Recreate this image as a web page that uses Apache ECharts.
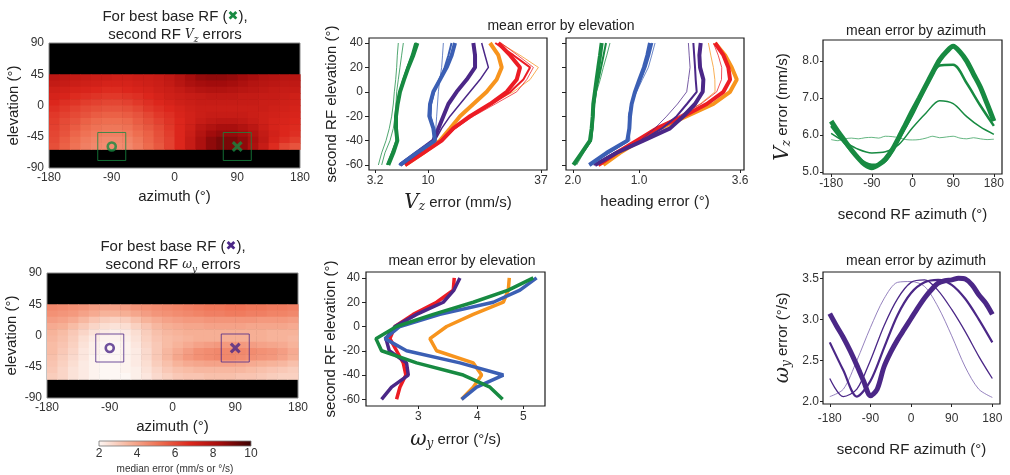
<!DOCTYPE html>
<html>
<head>
<meta charset="utf-8">
<script src="https://cdn.jsdelivr.net/npm/echarts/dist/echarts.min.js"></script>
<style>
  html, body { margin: 0; padding: 0; background: #fff; }
  #chart { width: 1010px; height: 475px; }
</style>
</head>
<body>
<div id="chart"></div>
<script>
// ---------- data ----------
const elevLevels = [40, 30, 20, 10, 0, -10, -20, -30, -40, -50, -60];
const elevTicks = [-60, -40, -20, 0, 20, 40];
const azTicks = [-180, -90, 0, 90, 180];

// heatmap cells (centres)
const heatAz = [-172.5, -157.5, -142.5, -127.5, -112.5, -97.5, -82.5, -67.5, -52.5, -37.5, -22.5, -7.5,
  7.5, 22.5, 37.5, 52.5, 67.5, 82.5, 97.5, 112.5, 127.5, 142.5, 157.5, 172.5];
const heatEl = [40.5, 31.5, 22.5, 13.5, 4.5, -4.5, -13.5, -22.5, -31.5, -40.5, -49.5, -58.5];

// second RF Vz errors (mm/s), one row per elevation
const vzHeat = [
  [7.7,7.6,7.5,7.4,7.3,7.3,7.2,7.2,7.3,7.3,7.4,7.6,7.9,8.3,8.6,8.7,8.7,8.6,8.4,8.2,8.0,7.9,7.8,7.8],
  [7.5,7.4,7.3,7.2,7.1,7.0,7.0,7.0,7.1,7.2,7.3,7.5,7.8,8.1,8.3,8.4,8.4,8.3,8.1,7.9,7.8,7.7,7.6,7.6],
  [7.2,7.1,7.0,6.9,6.8,6.7,6.7,6.8,6.9,7.0,7.2,7.3,7.5,7.7,7.9,8.0,8.0,7.9,7.8,7.7,7.6,7.5,7.4,7.4],
  [7.0,6.9,6.7,6.6,6.5,6.4,6.4,6.5,6.6,6.8,7.0,7.2,7.3,7.4,7.5,7.6,7.6,7.6,7.5,7.5,7.4,7.4,7.3,7.2],
  [6.8,6.6,6.5,6.3,6.2,6.1,6.1,6.2,6.4,6.6,6.8,7.0,7.2,7.3,7.4,7.4,7.4,7.4,7.4,7.4,7.3,7.3,7.2,7.1],
  [6.6,6.4,6.2,6.0,5.9,5.8,5.8,5.9,6.1,6.4,6.6,6.8,7.0,7.2,7.3,7.3,7.3,7.3,7.3,7.3,7.3,7.2,7.1,7.0],
  [6.4,6.2,6.0,5.8,5.6,5.5,5.5,5.6,5.8,6.1,6.4,6.6,6.9,7.1,7.3,7.4,7.4,7.4,7.4,7.3,7.2,7.1,7.0,6.9],
  [6.3,6.0,5.8,5.5,5.3,5.2,5.2,5.3,5.6,5.9,6.2,6.5,6.8,7.1,7.4,7.6,7.7,7.7,7.6,7.4,7.2,7.0,6.9,6.8],
  [6.2,5.9,5.6,5.3,5.1,5.0,5.0,5.1,5.4,5.7,6.0,6.4,6.8,7.2,7.7,8.0,8.2,8.2,8.0,7.7,7.3,7.0,6.8,6.7],
  [6.1,5.8,5.4,5.1,4.9,4.8,4.8,4.9,5.2,5.5,5.9,6.3,6.8,7.3,7.9,8.4,8.6,8.6,8.4,8.0,7.5,7.1,6.8,6.6],
  [6.0,5.6,5.2,4.9,4.7,4.6,4.6,4.7,5.0,5.4,5.8,6.2,6.8,7.4,8.1,8.7,9.0,9.0,8.7,8.2,7.6,7.0,6.6,6.3],
  [5.9,5.5,5.1,4.8,4.6,4.5,4.5,4.6,4.9,5.3,5.7,6.2,6.8,7.4,8.1,8.7,9.0,9.0,8.7,8.1,7.4,6.7,6.1,5.8]
];

// second RF wy errors (deg/s)
const wyHeat = [
  [4.6,4.5,4.4,4.3,4.1,4.0,4.0,4.1,4.3,4.4,4.5,4.6,4.7,4.8,4.9,5.0,5.0,5.1,5.1,5.0,5.0,4.9,4.9,4.8],
  [4.4,4.3,4.2,4.0,3.8,3.6,3.6,3.7,3.9,4.1,4.3,4.4,4.5,4.6,4.7,4.8,4.8,4.9,4.9,4.8,4.8,4.7,4.7,4.6],
  [4.1,4.0,3.8,3.5,3.2,3.0,2.9,3.0,3.3,3.6,3.8,4.0,4.1,4.2,4.2,4.3,4.3,4.3,4.3,4.3,4.2,4.2,4.2,4.1],
  [3.8,3.7,3.4,3.1,2.8,2.6,2.5,2.6,2.9,3.2,3.5,3.7,3.8,3.9,3.9,4.0,4.0,4.0,4.0,3.9,3.9,3.9,3.9,3.8],
  [3.6,3.4,3.1,2.8,2.5,2.3,2.2,2.3,2.6,3.0,3.3,3.5,3.6,3.7,3.7,3.7,3.7,3.7,3.7,3.7,3.7,3.6,3.6,3.6],
  [3.5,3.3,3.0,2.6,2.3,2.1,2.1,2.2,2.5,2.9,3.2,3.4,3.5,3.6,3.7,3.7,3.7,3.7,3.7,3.7,3.7,3.6,3.6,3.5],
  [3.4,3.2,2.9,2.5,2.2,2.0,2.0,2.1,2.4,2.8,3.1,3.4,3.6,3.8,4.0,4.1,4.2,4.2,4.2,4.1,4.0,3.9,3.8,3.6],
  [3.4,3.1,2.8,2.4,2.2,2.0,2.0,2.1,2.3,2.7,3.1,3.5,3.8,4.1,4.4,4.5,4.6,4.6,4.6,4.5,4.4,4.3,4.1,3.8],
  [3.3,3.0,2.7,2.4,2.1,2.0,2.0,2.1,2.3,2.7,3.1,3.5,3.9,4.2,4.4,4.5,4.6,4.6,4.5,4.4,4.3,4.2,4.0,3.7],
  [3.2,2.9,2.6,2.3,2.1,2.0,2.0,2.1,2.3,2.6,3.0,3.3,3.6,3.8,3.9,4.0,4.0,4.0,3.9,3.8,3.7,3.6,3.5,3.3],
  [3.1,2.8,2.5,2.3,2.1,2.0,2.0,2.1,2.2,2.5,2.8,3.1,3.3,3.4,3.5,3.5,3.5,3.5,3.5,3.4,3.3,3.2,3.1,3.0],
  [3.0,2.8,2.5,2.3,2.1,2.0,2.0,2.0,2.2,2.4,2.7,2.9,3.1,3.2,3.2,3.3,3.3,3.3,3.2,3.2,3.1,3.0,2.9,2.9]
];

// best base RF (x) and alternative (o) positions [azimuth, elevation]
const vzMarkO = [-90, -59];
const vzMarkX = [90, -59];
const wyMarkO = [-90, -18];
const wyMarkX = [90, -18];

const cmapColors = ['#fdf7f4', '#f7b39a', '#ee6e50', '#dc261c', '#a20c0c', '#3a0202'];
const cbarTicks = [2, 4, 6, 8, 10];

// mean Vz error by elevation (mm/s)
const vzTicks = [3.2, 10, 37];
const vzTickLabels = ['3.2', '10', '37'];
const vzGreenThick = [8.32, 7.73, 7.03, 6.45, 5.93, 5.64, 5.44, 5.44, 5.60, 5.12, 4.55];
const vzGreenMid = [8.0, 7.5, 6.9, 6.35, 5.9, 5.6, 5.42, 5.4, 5.5, 4.95, 4.4];
const vzGreenThin1 = [6.36, 6.14, 5.93, 5.72, 5.52, 5.44, 5.32, 5.12, 4.74, 4.19, 3.85];
const vzGreenThin2 = [5.72, 5.60, 5.52, 5.40, 5.24, 5.12, 4.93, 4.66, 4.30, 3.85, 3.52];
const vzBlueThick = [14.89, 14.23, 13.27, 12.04, 10.88, 10.32, 10.20, 10.88, 11.16, 8.22, 5.93];
const vzBlueMid = [14.2, 13.6, 12.9, 11.9, 11.0, 10.5, 10.4, 10.9, 11.0, 8.1, 5.8];
const vzBlueThin = [12.65, 12.5, 12.34, 12.0, 11.75, 11.6, 11.45, 11.3, 11.16, 8.47, 6.14];
const vzPurpleThick = [18.77, 19.15, 19.15, 17.31, 15.22, 13.59, 12.65, 11.75, 10.88, 8.22, 5.93];
const vzPurpleThin = [20.68, 21.47, 22.29, 20.30, 18.03, 15.90, 13.91, 12.34, 11.16, 8.47, 6.14];
const vzOrangeThick = [22.69, 24.79, 25.66, 24.36, 21.88, 18.77, 15.90, 13.91, 12.04, 9.24, 6.58];
const vzOrangeThin = [25.22, 30.69, 36.17, 33.62, 28.81, 22.69, 18.03, 14.55, 12.34, 9.5, 6.8];
const vzRedThick = [24.79, 27.89, 30.69, 29.74, 26.99, 22.69, 18.03, 14.55, 12.34, 9.24, 6.58];
const vzRedMid = [24.0, 28.81, 33.62, 31.65, 28.0, 23.2, 18.3, 14.7, 12.4, 9.3, 6.6];
const vzRedThin = [25.5, 30.0, 34.63, 32.63, 29.74, 24.0, 18.8, 15.0, 12.6, 9.4, 6.7];

// mean heading error by elevation (deg)
const hdTicks = [0.17, 1.0, 3.6];
const hdTickLabels = ['2.0', '1.0', '3.6'];
const hdGreenThick = [0.447, 0.428, 0.408, 0.389, 0.371, 0.353, 0.347, 0.336, 0.319, 0.241, 0.174];
const hdGreenMid = [0.5, 0.47, 0.44, 0.41, 0.38, 0.36, 0.352, 0.343, 0.33, 0.25, 0.185];
const hdGreenThin = [0.551, 0.51, 0.467, 0.43, 0.389, 0.37, 0.36, 0.35, 0.336, 0.26, 0.199];
const hdBlueThick = [1.205, 1.154, 1.090, 1.006, 0.930, 0.874, 0.847, 0.836, 0.803, 0.508, 0.312];
const hdBlueMid = [1.25, 1.19, 1.12, 1.03, 0.94, 0.87, 0.83, 0.83, 0.82, 0.53, 0.315];
const hdBlueThin = [1.305, 1.24, 1.173, 1.06, 0.959, 0.87, 0.819, 0.83, 0.847, 0.55, 0.319];
const hdPurpleThick = [2.395, 2.359, 2.377, 2.469, 2.451, 2.242, 1.943, 1.627, 1.078, 0.643, 0.371];
const hdPurpleMid = [2.198, 2.22, 2.242, 2.26, 2.287, 2.03, 1.781, 1.45, 1.048, 0.62, 0.36];
const hdPurpleThin = [2.069, 2.09, 2.112, 2.07, 2.026, 1.8, 1.552, 1.3, 1.018, 0.6, 0.353];
const hdOrangeThick = [2.806, 3.112, 3.324, 3.489, 3.270, 2.756, 2.026, 1.408, 1.018, 0.691, 0.467];
const hdOrangeThin = [2.612, 2.68, 2.756, 2.8, 2.806, 2.377, 1.861, 1.35, 1.0, 0.67, 0.447];
const hdRedThick = [2.806, 3.060, 3.216, 3.270, 3.060, 2.564, 1.943, 1.339, 0.959, 0.643, 0.408];
const hdRedThin = [2.756, 2.9, 3.008, 3.0, 2.856, 2.4, 1.821, 1.3, 0.95, 0.63, 0.4];

// mean wy error by elevation (deg/s)
const wyTicks = [3, 4, 5];
const wyRed = [3.574, 3.557, 3.280, 2.928, 2.679, 2.614, 2.700, 2.789, 2.825, 2.744, 2.700];
const wyPurple = [3.674, 3.569, 3.388, 2.976, 2.679, 2.564, 2.606, 2.834, 2.858, 2.635, 2.510];
const wyOrange = [4.671, 4.649, 4.537, 3.920, 3.444, 3.175, 3.280, 3.920, 4.083, 3.920, 3.704];
const wyBlue = [5.335, 4.920, 4.321, 3.334, 2.744, 2.551, 2.834, 3.674, 4.537, 3.985, 3.704];
const wyGreen = [5.250, 4.649, 3.920, 3.227, 2.700, 2.442, 2.510, 2.976, 3.734, 4.252, 4.522];

// mean error by second RF azimuth
const azFine = [-180, -165, -150, -135, -120, -105, -90, -75, -60, -45, -30, -15, 0,
  15, 30, 45, 60, 75, 90, 105, 120, 135, 150, 165, 180];
const azCoarse = [-180, -150, -120, -90, -60, -30, 0, 30, 60, 90, 120, 150, 180];
const vzAz1 = [6.38, 6.1, 5.85, 5.6, 5.38, 5.2, 5.12, 5.2, 5.35, 5.6, 5.94, 6.3, 6.66,
  7.0, 7.35, 7.7, 8.03, 8.25, 8.4, 8.25, 8.0, 7.65, 7.3, 6.85, 6.38];
const vzAz2 = [6.25, 5.78, 5.38, 5.2, 5.3, 5.9, 6.55, 7.3, 7.88, 7.9, 7.4, 6.8, 6.25];
const vzAz3 = [6.05, 5.82, 5.62, 5.52, 5.55, 5.75, 6.2, 6.6, 6.93, 6.85, 6.5, 6.22, 6.02];
const vzAz4 = [5.88, 5.85, 5.9, 5.92, 5.9, 5.93, 5.94, 5.92, 5.97, 5.96, 5.93, 5.88, 5.87,
  5.88, 5.92, 5.97, 5.93, 5.95, 5.97, 5.92, 5.9, 5.93, 5.9, 5.88, 5.89];
const wyAz1 = [3.07, 2.92, 2.78, 2.62, 2.44, 2.25, 2.07, 2.15, 2.42, 2.6, 2.75, 2.88, 3.01,
  3.14, 3.26, 3.36, 3.44, 3.47, 3.48, 3.5, 3.49, 3.42, 3.3, 3.2, 3.06];
const wyAz2 = [2.72, 2.38, 2.06, 2.25, 2.65, 3.05, 3.32, 3.45, 3.48, 3.42, 3.25, 3.0, 2.72];
const wyAz3 = [2.28, 2.06, 2.15, 2.5, 2.92, 3.25, 3.45, 3.48, 3.35, 3.12, 2.85, 2.55, 2.28];
const wyAz4 = [2.06, 2.15, 2.5, 2.9, 3.25, 3.45, 3.46, 3.4, 3.15, 2.8, 2.42, 2.15, 2.05];

// ---------- styling ----------
const FONT = '"Liberation Sans", Arial, sans-serif';
const MATH = '"DejaVu Serif", "Liberation Serif", serif';
const GREEN = '#178a41', BLUE = '#3b5fb4', PURPLE = '#4b2787', ORANGE = '#f7941d', RED = '#ec1c24';
const TXT = '#222';

const mathRich = {
  mi: { fontFamily: MATH, fontStyle: 'italic', fontSize: 20, color: TXT },
  ms: { fontFamily: MATH, fontStyle: 'italic', fontSize: 12, color: TXT, verticalAlign: 'bottom', padding: [8, 0, 0, 0] }
};

function frameGrid(l, t, w, h) {
  return { left: l, top: t, width: w, height: h, show: true, borderColor: '#1a1a1a', borderWidth: 1.2, backgroundColor: 'transparent' };
}
function heatGrid(l, t) {
  return { left: l, top: t, width: 251, height: 125, show: true, borderColor: '#888', borderWidth: 1, backgroundColor: '#000' };
}
function nearestLabel(ticks, labels, v, f) {
  let best = 0;
  ticks.forEach((t, i) => { if (Math.abs(f(t) - v) < Math.abs(f(ticks[best]) - v)) best = i; });
  return labels[best];
}
function plainAxis(grid, opts) {
  return Object.assign({
    gridIndex: grid, type: 'value',
    axisLine: { show: false, onZero: false }, splitLine: { show: false },
    axisTick: { show: true, length: 4, lineStyle: { color: '#222' } },
    axisLabel: { fontSize: 12, color: '#333', fontFamily: FONT, margin: 6 },
    nameLocation: 'middle',
    nameTextStyle: { fontSize: 15, color: TXT, fontFamily: FONT, rich: mathRich }
  }, opts);
}
function elevY(grid, name, showLabels, min, max, gap) {
  return plainAxis(grid, {
    min: min, max: max, name: name, nameGap: gap,
    axisTick: { show: true, length: 4, lineStyle: { color: '#222' }, customValues: elevTicks },
    axisLabel: { show: showLabels, customValues: elevTicks, fontSize: 12, color: '#333', fontFamily: FONT, margin: 6 }
  });
}

// heatmap cell drawn through the axes
const azStep = heatAz[1] - heatAz[0];
const elStep = heatEl[0] - heatEl[1];
function cellItem(params, api) {
  const az = api.value(0), el = api.value(1);
  const p1 = api.coord([az - azStep / 2, el + elStep / 2]);
  const p2 = api.coord([az + azStep / 2, el - elStep / 2]);
  return {
    type: 'rect',
    shape: { x: p1[0], y: p1[1], width: p2[0] - p1[0] + 0.6, height: p2[1] - p1[1] + 0.6 },
    style: { fill: api.visual('color') }
  };
}
function heatCells(grid) {
  const out = [];
  grid.forEach((row, r) => row.forEach((v, c) => out.push([heatAz[c], heatEl[r], v])));
  return out;
}

const crossPath = 'path://M2,0L5,3L8,0L10,2L7,5L10,8L8,10L5,7L2,10L0,8L3,5L0,2Z';
function markSeries(grid, o, x, color) {
  return [
    { type: 'scatter', xAxisIndex: grid, yAxisIndex: grid, silent: true, symbol: 'rect', symbolSize: 28,
      data: [o, x], itemStyle: { color: 'rgba(0,0,0,0)', borderColor: color, borderWidth: 1 }, z: 5 },
    { type: 'scatter', xAxisIndex: grid, yAxisIndex: grid, silent: true, symbol: 'circle', symbolSize: 8,
      data: [o], itemStyle: { color: 'rgba(0,0,0,0)', borderColor: color, borderWidth: 2.6 }, z: 6 },
    { type: 'scatter', xAxisIndex: grid, yAxisIndex: grid, silent: true, symbol: crossPath, symbolSize: 11,
      data: [x], itemStyle: { color: color }, z: 6 }
  ];
}

function elevLine(grid, vals, color, width, f) {
  return {
    type: 'line', xAxisIndex: grid, yAxisIndex: grid, symbol: 'none', silent: true,
    data: vals.map((v, i) => [f(v), elevLevels[i]]),
    lineStyle: { color: color, width: width, opacity: width <= 1 ? 0.75 : 1 }
  };
}
function azLine(grid, xs, vals, color, width, opacity) {
  return {
    type: 'line', xAxisIndex: grid, yAxisIndex: grid, symbol: 'none', silent: true, smooth: 0.3,
    data: vals.map((v, i) => [xs[i], v]),
    lineStyle: { color: color, width: width, opacity: opacity }
  };
}

const sq = Math.sqrt;
const id = v => v;

const cbarStops = cmapColors.map((c, i) => ({ offset: i / (cmapColors.length - 1), color: c }));

const series = [
  { type: 'custom', xAxisIndex: 0, yAxisIndex: 0, renderItem: cellItem, data: heatCells(vzHeat), encode: { x: 0, y: 1 }, silent: true },
  { type: 'custom', xAxisIndex: 1, yAxisIndex: 1, renderItem: cellItem, data: heatCells(wyHeat), encode: { x: 0, y: 1 }, silent: true },
  ...markSeries(0, vzMarkO, vzMarkX, GREEN),
  ...markSeries(1, wyMarkO, wyMarkX, '#4b2787'),
  // Vz by elevation
  elevLine(2, vzOrangeThin, ORANGE, 1, sq),
  elevLine(2, vzOrangeThick, ORANGE, 4, sq),
  elevLine(2, vzRedThin, RED, 1, sq),
  elevLine(2, vzRedMid, RED, 2, sq),
  elevLine(2, vzRedThick, RED, 4, sq),
  elevLine(2, vzPurpleThin, PURPLE, 1.5, sq),
  elevLine(2, vzPurpleThick, PURPLE, 4, sq),
  elevLine(2, vzBlueThin, BLUE, 1, sq),
  elevLine(2, vzBlueMid, BLUE, 2, sq),
  elevLine(2, vzBlueThick, BLUE, 4, sq),
  elevLine(2, vzGreenThin2, GREEN, 1, sq),
  elevLine(2, vzGreenThin1, GREEN, 1, sq),
  elevLine(2, vzGreenMid, GREEN, 2, sq),
  elevLine(2, vzGreenThick, GREEN, 4, sq),
  // heading by elevation
  elevLine(3, hdOrangeThin, ORANGE, 1, sq),
  elevLine(3, hdOrangeThick, ORANGE, 4, sq),
  elevLine(3, hdRedThin, RED, 1, sq),
  elevLine(3, hdRedThick, RED, 4, sq),
  elevLine(3, hdPurpleThin, PURPLE, 1, sq),
  elevLine(3, hdPurpleMid, PURPLE, 2, sq),
  elevLine(3, hdPurpleThick, PURPLE, 4, sq),
  elevLine(3, hdBlueThin, BLUE, 1, sq),
  elevLine(3, hdBlueMid, BLUE, 2, sq),
  elevLine(3, hdBlueThick, BLUE, 4, sq),
  elevLine(3, hdGreenThin, GREEN, 1, sq),
  elevLine(3, hdGreenMid, GREEN, 2, sq),
  elevLine(3, hdGreenThick, GREEN, 4, sq),
  // Vz by azimuth
  azLine(4, azFine, vzAz4, '#3fa463', 1, 0.8),
  azLine(4, azCoarse, vzAz3, GREEN, 1.5, 1),
  azLine(4, azCoarse, vzAz2, GREEN, 2.5, 1),
  azLine(4, azFine, vzAz1, GREEN, 5, 1),
  // wy by elevation
  elevLine(5, wyRed, RED, 3.5, id),
  elevLine(5, wyPurple, PURPLE, 3.5, id),
  elevLine(5, wyOrange, ORANGE, 3.5, id),
  elevLine(5, wyBlue, BLUE, 3.5, id),
  elevLine(5, wyGreen, GREEN, 3.5, id),
  // wy by azimuth
  azLine(6, azCoarse, wyAz4, '#7a62ad', 0.8, 1),
  azLine(6, azCoarse, wyAz3, PURPLE, 1.3, 1),
  azLine(6, azCoarse, wyAz2, PURPLE, 2.2, 1),
  azLine(6, azFine, wyAz1, PURPLE, 5, 1),
  // colour bar
  { type: 'custom', xAxisIndex: 7, yAxisIndex: 7, silent: true, data: [[cbarTicks[0], cbarTicks[cbarTicks.length - 1]]],
    renderItem: function (params, api) {
      const p1 = api.coord([api.value(0), 1]);
      const p2 = api.coord([api.value(1), 0]);
      return { type: 'rect', shape: { x: p1[0], y: p1[1], width: p2[0] - p1[0], height: p2[1] - p1[1] },
        style: { fill: new echarts.graphic.LinearGradient(0, 0, 1, 0, cbarStops), stroke: '#777', lineWidth: 0.8 } };
    } }
];

const titleStyle = { fontSize: 14, fontWeight: 'normal', color: TXT, fontFamily: FONT };
function heatTitle(left, top, color, sym, sub) {
  return {
    text: 'For best base RF ({gx|✖}),\nsecond RF {mi|' + sym + '}{ms|' + sub + '} errors',
    left: left, top: top, textAlign: 'center', padding: 0, z: 20,
    textStyle: { fontSize: 15, fontWeight: 'normal', color: TXT, fontFamily: FONT, lineHeight: 18,
      rich: {
        gx: { color: color, fontSize: 13, fontFamily: '"DejaVu Sans", sans-serif', fontWeight: 'bold', lineHeight: 18 },
        mi: { fontFamily: MATH, fontStyle: 'italic', fontSize: 12, color: TXT, lineHeight: 18 },
        ms: { fontFamily: MATH, fontStyle: 'italic', fontSize: 9, color: TXT, lineHeight: 18, verticalAlign: 'bottom' }
      } }
  };
}

const heatX = grid => plainAxis(grid, {
  min: -180, max: 180, interval: 90, axisTick: { show: false },
  axisLabel: { fontSize: 12, color: '#333', fontFamily: FONT, margin: 4 },
  name: 'azimuth (°)', nameGap: 21
});
const heatY = grid => plainAxis(grid, {
  min: -90, max: 90, interval: 45, axisTick: { show: false },
  axisLabel: { fontSize: 12, color: '#333', fontFamily: FONT, margin: 5 },
  name: 'elevation (°)', nameGap: 28
});

const option = {
  animation: false,
  backgroundColor: '#fff',
  title: [
    heatTitle(175, 8, GREEN, 'V', 'z'),
    heatTitle(173, 238, '#4b2787', 'ω', 'y'),
    { text: 'mean error by elevation', left: 556, top: 14, textAlign: 'center', textStyle: titleStyle },
    { text: 'mean error by azimuth', left: 911, top: 19, textAlign: 'center', textStyle: titleStyle },
    { text: 'mean error by elevation', left: 457, top: 249, textAlign: 'center', textStyle: titleStyle },
    { text: 'mean error by azimuth', left: 911, top: 249, textAlign: 'center', textStyle: titleStyle }
  ],
  visualMap: {
    type: 'continuous', show: false, min: 2, max: 10, dimension: 2, seriesIndex: [0, 1],
    inRange: { color: cmapColors }
  },
  grid: [
    heatGrid(49, 43),
    heatGrid(47, 273),
    frameGrid(369, 38, 178, 132),
    frameGrid(566, 38, 178, 132),
    frameGrid(823, 40, 179, 134),
    frameGrid(366, 272, 179, 134),
    frameGrid(823, 272, 177, 132),
    { left: 99, top: 441, width: 152, height: 5, show: false }
  ],
  xAxis: [
    heatX(0),
    heatX(1),
    plainAxis(2, {
      min: sq(2.67), max: sq(38.9),
      axisTick: { show: true, length: 3, lineStyle: { color: '#222' }, customValues: vzTicks.map(sq) },
      axisLabel: { customValues: vzTicks.map(sq), fontSize: 12, color: '#333', fontFamily: FONT, margin: 5,
        formatter: v => nearestLabel(vzTicks, vzTickLabels, v, sq) },
      name: '{mi|V}{ms|z} error (mm/s)', nameGap: 23
    }),
    plainAxis(3, {
      min: 0.352, max: 1.932,
      axisTick: { show: true, length: 3, lineStyle: { color: '#222' }, customValues: hdTicks.map(sq) },
      axisLabel: { customValues: hdTicks.map(sq), fontSize: 12, color: '#333', fontFamily: FONT, margin: 5,
        formatter: v => nearestLabel(hdTicks, hdTickLabels, v, sq) },
      name: 'heading error (°)', nameGap: 24
    }),
    plainAxis(4, {
      min: -198, max: 198,
      axisTick: { show: true, length: 3, lineStyle: { color: '#222' }, customValues: azTicks },
      axisLabel: { customValues: azTicks, fontSize: 12, color: '#333', fontFamily: FONT, margin: 4 },
      name: 'second RF azimuth (°)', nameGap: 33
    }),
    plainAxis(5, {
      type: 'log', logBase: 10, min: 2.327, max: 5.557,
      axisTick: { show: true, length: 3, lineStyle: { color: '#222' }, customValues: wyTicks },
      axisLabel: { customValues: wyTicks, fontSize: 12, color: '#333', fontFamily: FONT, margin: 5 },
      name: '{mi|ω}{ms|y} error (°/s)', nameGap: 24
    }),
    plainAxis(6, {
      min: -195, max: 197,
      axisTick: { show: true, length: 3, lineStyle: { color: '#222' }, customValues: azTicks },
      axisLabel: { customValues: azTicks, fontSize: 12, color: '#333', fontFamily: FONT, margin: 9 },
      name: 'second RF azimuth (°)', nameGap: 38
    }),
    plainAxis(7, {
      min: cbarTicks[0], max: cbarTicks[cbarTicks.length - 1], interval: 2,
      axisTick: { show: false },
      axisLabel: { fontSize: 12, color: '#333', fontFamily: FONT, margin: 2 },
      name: 'median error (mm/s or °/s)', nameGap: 18,
      nameTextStyle: { fontSize: 10, color: '#333', fontFamily: FONT }
    })
  ],
  yAxis: [
    heatY(0),
    heatY(1),
    elevY(2, 'second RF elevation (°)', true, -64.1, 44.1, 30),
    elevY(3, '', false, -64.1, 44.1, 30),
    plainAxis(4, {
      min: 4.95, max: 8.57,
      axisTick: { show: true, length: 3, lineStyle: { color: '#222' }, customValues: [5, 6, 7, 8] },
      axisLabel: { customValues: [5, 6, 7, 8], fontSize: 12, color: '#333', fontFamily: FONT, margin: 4,
        formatter: v => v.toFixed(1) },
      name: '{mi|V}{ms|z} error (mm/s)', nameGap: 30
    }),
    elevY(5, 'second RF elevation (°)', true, -65.5, 44.9, 27),
    plainAxis(6, {
      min: 1.97, max: 3.576,
      axisTick: { show: true, length: 3, lineStyle: { color: '#222' }, customValues: [2, 2.5, 3, 3.5] },
      axisLabel: { customValues: [2, 2.5, 3, 3.5], fontSize: 12, color: '#333', fontFamily: FONT, margin: 4,
        formatter: v => v.toFixed(1) },
      name: '{mi|ω}{ms|y} error (°/s)', nameGap: 30
    }),
    { gridIndex: 7, type: 'value', min: 0, max: 1, show: false }
  ],
  series: series
};

const chart = echarts.init(document.getElementById('chart'));
chart.setOption(option);
</script>
</body>
</html>
